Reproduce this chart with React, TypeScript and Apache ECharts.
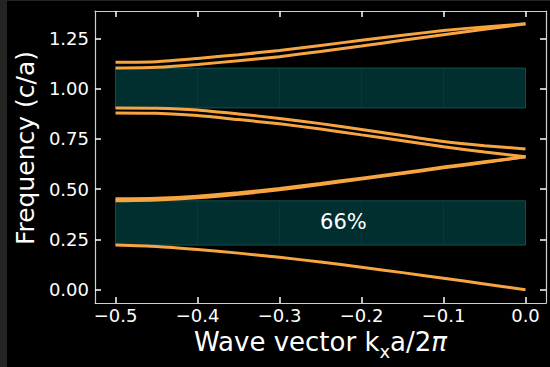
import React, { useEffect, useRef } from "react";
import * as echarts from "echarts";

const kValues = [-0.5, -0.45, -0.4, -0.35, -0.3, -0.25, -0.2, -0.15, -0.1, -0.05, 0];
const band1 = [0.222, 0.215, 0.2, 0.182, 0.161, 0.138, 0.112, 0.085, 0.057, 0.029, 0.0];
const band2 = [0.442, 0.446, 0.457, 0.475, 0.497, 0.523, 0.55, 0.578, 0.606, 0.633, 0.661];
const band3 = [0.452, 0.455, 0.465, 0.482, 0.503, 0.528, 0.555, 0.582, 0.61, 0.636, 0.661];
const band4 = [0.879, 0.877, 0.866, 0.846, 0.825, 0.799, 0.77, 0.741, 0.711, 0.685, 0.661];
const band5 = [0.904, 0.903, 0.894, 0.874, 0.852, 0.826, 0.797, 0.767, 0.737, 0.716, 0.7];
const band6 = [1.102, 1.106, 1.12, 1.139, 1.159, 1.185, 1.212, 1.24, 1.268, 1.295, 1.322];
const band7 = [1.131, 1.134, 1.15, 1.169, 1.19, 1.215, 1.24, 1.265, 1.289, 1.307, 1.322];
const bands = [band1, band2, band3, band4, band5, band6, band7];

const xTicks = [-0.5, -0.4, -0.3, -0.2, -0.1, 0.0];
const yTicks = [0, 0.25, 0.5, 0.75, 1.0, 1.25];
const segmentEdges = [-0.5, -0.4, -0.3, -0.2, -0.1, 0.0];
const labelK = -0.222;

const ORANGE = "#f7a540";

export default function App() {
  const ref = useRef<HTMLDivElement>(null);
  useEffect(() => {
    if (!ref.current) return;
    const chart = echarts.init(ref.current, undefined, { renderer: "svg" });
    const font = "DejaVu Sans";

    const gaps = [
      { lo: Math.max(...band1), hi: Math.min(...band2) },
      { lo: Math.max(...band5), hi: Math.min(...band6) },
    ];
    const segData: any[] = [];
    const outlineData: any[] = [];
    gaps.forEach((g) => {
      for (let i = 0; i < segmentEdges.length - 1; i++) {
        segData.push([
          { xAxis: segmentEdges[i], yAxis: g.lo },
          { xAxis: segmentEdges[i + 1], yAxis: g.hi },
        ]);
      }
      outlineData.push([
        { xAxis: segmentEdges[0], yAxis: g.lo },
        { xAxis: segmentEdges[segmentEdges.length - 1], yAxis: g.hi },
      ]);
    });
    const g0 = gaps[0];
    const pct = Math.round((100 * (g0.hi - g0.lo)) / ((g0.hi + g0.lo) / 2));

    const tickStyle = { show: true, inside: true, length: 6, lineStyle: { color: "#ffffff", width: 1.5 } };
    const lineAxis = { show: true, onZero: false, lineStyle: { color: "#d0d0d0", width: 1.2 } };

    const series: any[] = bands.map((b) => ({
      type: "line",
      data: kValues.map((k, i) => [k, b[i]]),
      symbol: "none",
      smooth: 0.2,
      lineStyle: { color: ORANGE, width: 3 },
      z: 3,
      xAxisIndex: 0,
      yAxisIndex: 0,
    }));
    series.push({
      type: "line",
      data: [],
      xAxisIndex: 0,
      yAxisIndex: 0,
      z: 1,
      markArea: {
        silent: true,
        itemStyle: { color: "#012f2f", borderColor: "rgba(22,80,78,0.3)", borderWidth: 1 },
        data: segData,
      },
    });
    series.push({
      type: "line",
      data: [],
      xAxisIndex: 0,
      yAxisIndex: 0,
      z: 2,
      markArea: {
        silent: true,
        itemStyle: { color: "rgba(0,0,0,0)", borderColor: "rgba(24,90,88,0.7)", borderWidth: 1 },
        data: outlineData,
      },
      markPoint: {
        symbol: "circle",
        symbolSize: 0,
        label: {
          show: true,
          position: "inside",
          formatter: pct + "%",
          color: "#ffffff",
          fontSize: 21,
          fontFamily: font,
        },
        data: [{ coord: [labelK, (g0.lo + g0.hi) / 2 + 0.004] }],
      },
    });

    chart.setOption({
      animation: false,
      backgroundColor: "#000000",
      grid: { left: 88, right: 4, top: 10, bottom: 64, outerBoundsMode: "none", containLabel: false },
      xAxis: [
        {
          type: "value",
          min: -0.525,
          max: 0.025,
          position: "bottom",
          axisLine: lineAxis,
          axisTick: { ...tickStyle, customValues: xTicks },
          splitLine: { show: false },
          axisLabel: {
            customValues: xTicks,
            color: "#ffffff",
            fontSize: 18,
            fontFamily: font,
            margin: 3,
            formatter: (v: number) => (v < -1e-9 ? "\u2212" : "") + Math.abs(v).toFixed(1),
          },
          name: "{n|Wave vector k}{s|x}{n|a/2}{i|\u03c0}",
          nameLocation: "middle",
          nameGap: 24,
          nameTextStyle: {
            color: "#ffffff",
            fontFamily: font,
            fontSize: 26,
            rich: {
              n: { fontSize: 26, fontFamily: font, color: "#ffffff", lineHeight: 30, verticalAlign: "top" },
              s: { fontSize: 18, fontFamily: font, color: "#ffffff", lineHeight: 20, padding: [14, 0, 0, 0], verticalAlign: "top" },
              i: { fontSize: 26, fontFamily: font, color: "#ffffff", fontStyle: "italic", lineHeight: 30, verticalAlign: "top" },
            },
          },
        },
        {
          type: "value",
          min: -0.525,
          max: 0.025,
          position: "top",
          axisLine: lineAxis,
          axisTick: { ...tickStyle, customValues: xTicks },
          axisLabel: { show: false },
          splitLine: { show: false },
        },
      ],
      yAxis: [
        {
          type: "value",
          min: -0.066,
          max: 1.386,
          position: "left",
          axisLine: lineAxis,
          axisTick: { ...tickStyle, customValues: yTicks },
          splitLine: { show: false },
          axisLabel: {
            customValues: yTicks,
            color: "#ffffff",
            fontSize: 18,
            fontFamily: font,
            margin: 6,
            formatter: (v: number) => v.toFixed(2),
          },
          name: "Frequency (c/a)",
          nameLocation: "middle",
          nameGap: 52,
          nameTextStyle: { color: "#ffffff", fontFamily: font, fontSize: 25, padding: [0, 0, 0, 18] },
        },
        {
          type: "value",
          min: -0.066,
          max: 1.386,
          position: "right",
          axisLine: lineAxis,
          axisTick: { ...tickStyle, customValues: yTicks },
          axisLabel: { show: false },
          splitLine: { show: false },
        },
      ],
      series,
    });
    return () => chart.dispose();
  }, []);

  return (
    <div style={{ position: "fixed", left: 0, top: 0, width: 550, height: 367, background: "#242424" }}>
      <div ref={ref} style={{ position: "absolute", left: 7, top: 1, width: 543, height: 366 }} />
    </div>
  );
}
